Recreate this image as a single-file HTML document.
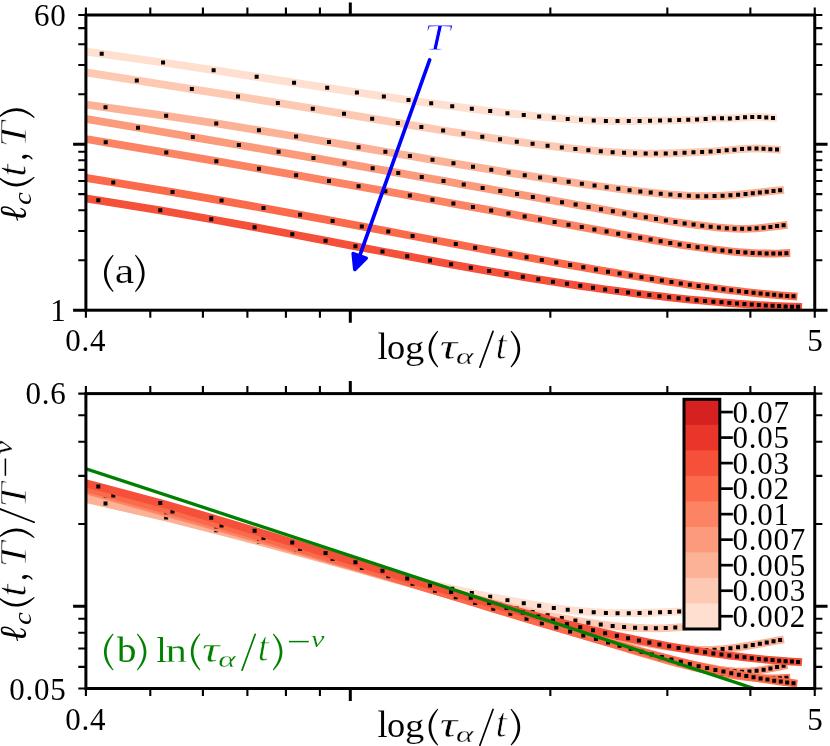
<!DOCTYPE html>
<html><head><meta charset="utf-8"><title>chart</title>
<style>
html,body{margin:0;padding:0;background:#fff;}
body{width:830px;height:746px;overflow:hidden;}
svg{display:block;will-change:transform;}
text{font-family:"Liberation Serif",serif;}
.tk{font-size:31px;letter-spacing:0.75px;}
</style></head><body>
<svg width="830" height="746" viewBox="0 0 830 746">
<rect width="830" height="746" fill="#fff"/>
<defs><clipPath id="c1"><rect x="85.9" y="15.0" width="728.85" height="295.2"/></clipPath><clipPath id="c2"><rect x="85.9" y="393.6" width="728.85" height="294.9"/></clipPath></defs>
<g clip-path="url(#c1)">
<path d="M23.67,42.66 L101.7,53.77 L163.06,62.5 L213.63,70.15 L256.65,76.83 L294.07,82.69 L327.2,87.84 L356.91,92.4 L383.85,96.45 L408.48,100.06 L431.18,103.29 L452.22,106.18 L471.83,108.78 L490.19,111.1 L507.46,113.15 L523.75,114.95 L539.16,116.52 L553.8,117.86 L567.73,118.98 L581.02,119.85 L593.72,120.49 L605.89,120.89 L617.56,121.07 L628.78,121.08 L639.58,120.97 L649.99,120.78 L660.04,120.55 L669.75,120.31 L679.15,120.07 L688.24,119.85 L697.06,119.61 L705.62,119.07 L713.93,118.33 L722.01,118.29 L729.87,118.43 L737.52,117.99 L744.98,117.32 L752.24,116.89 L759.33,116.92 L766.24,117.42 L773,117.91" fill="none" stroke="#fedfd0" stroke-width="7.8" stroke-linecap="square" stroke-linejoin="round"/>
<path d="M99.7,51.77h4.0v4.0h-4.0zM161.06,60.5h4.0v4.0h-4.0zM211.63,68.15h4.0v4.0h-4.0zM254.65,74.83h4.0v4.0h-4.0zM292.07,80.69h4.0v4.0h-4.0zM325.2,85.84h4.0v4.0h-4.0zM354.91,90.4h4.0v4.0h-4.0zM381.85,94.45h4.0v4.0h-4.0zM406.48,98.06h4.0v4.0h-4.0zM429.18,101.29h4.0v4.0h-4.0zM450.22,104.18h4.0v4.0h-4.0zM469.83,106.78h4.0v4.0h-4.0zM488.19,109.1h4.0v4.0h-4.0zM505.46,111.15h4.0v4.0h-4.0zM521.75,112.95h4.0v4.0h-4.0zM537.16,114.52h4.0v4.0h-4.0zM551.8,115.86h4.0v4.0h-4.0zM565.73,116.98h4.0v4.0h-4.0zM579.02,117.85h4.0v4.0h-4.0zM591.72,118.49h4.0v4.0h-4.0zM603.89,118.89h4.0v4.0h-4.0zM615.56,119.07h4.0v4.0h-4.0zM626.78,119.08h4.0v4.0h-4.0zM637.58,118.97h4.0v4.0h-4.0zM647.99,118.78h4.0v4.0h-4.0zM658.04,118.55h4.0v4.0h-4.0zM667.75,118.31h4.0v4.0h-4.0zM677.15,118.07h4.0v4.0h-4.0zM686.24,117.85h4.0v4.0h-4.0zM695.06,117.61h4.0v4.0h-4.0zM703.62,117.07h4.0v4.0h-4.0zM711.93,116.33h4.0v4.0h-4.0zM720.01,116.29h4.0v4.0h-4.0zM727.87,116.43h4.0v4.0h-4.0zM735.52,115.99h4.0v4.0h-4.0zM742.98,115.32h4.0v4.0h-4.0zM750.24,114.89h4.0v4.0h-4.0zM757.33,114.92h4.0v4.0h-4.0zM764.24,115.42h4.0v4.0h-4.0zM771,115.91h4.0v4.0h-4.0z" fill="#000"/>
<path d="M68.74,69.68 L136.8,80.4 L191.83,89.06 L238.03,96.44 L277.84,102.9 L312.82,108.66 L344.01,113.87 L372.16,118.63 L397.81,122.97 L421.36,126.91 L443.13,130.48 L463.38,133.72 L482.3,136.64 L500.05,139.28 L516.77,141.66 L532.58,143.8 L547.57,145.71 L561.81,147.42 L575.39,148.92 L588.36,150.21 L600.76,151.29 L612.66,152.16 L624.09,152.83 L635.08,153.29 L645.66,153.56 L655.88,153.62 L665.74,153.48 L675.28,153.16 L684.51,152.76 L693.45,152.35 L702.13,151.98 L710.56,151.54 L718.74,150.97 L726.7,150.31 L734.44,149.63 L741.99,149 L749.34,148.6 L756.51,148.52 L763.5,148.72 L770.33,149.13 L777,149.62" fill="none" stroke="#fdc9b3" stroke-width="7.8" stroke-linecap="square" stroke-linejoin="round"/>
<path d="M134.8,78.4h4.0v4.0h-4.0zM189.83,87.06h4.0v4.0h-4.0zM236.03,94.44h4.0v4.0h-4.0zM275.84,100.9h4.0v4.0h-4.0zM310.82,106.66h4.0v4.0h-4.0zM342.01,111.87h4.0v4.0h-4.0zM370.16,116.63h4.0v4.0h-4.0zM395.81,120.97h4.0v4.0h-4.0zM419.36,124.91h4.0v4.0h-4.0zM441.13,128.48h4.0v4.0h-4.0zM461.38,131.72h4.0v4.0h-4.0zM480.3,134.64h4.0v4.0h-4.0zM498.05,137.28h4.0v4.0h-4.0zM514.77,139.66h4.0v4.0h-4.0zM530.58,141.8h4.0v4.0h-4.0zM545.57,143.71h4.0v4.0h-4.0zM559.81,145.42h4.0v4.0h-4.0zM573.39,146.92h4.0v4.0h-4.0zM586.36,148.21h4.0v4.0h-4.0zM598.76,149.29h4.0v4.0h-4.0zM610.66,150.16h4.0v4.0h-4.0zM622.09,150.83h4.0v4.0h-4.0zM633.08,151.29h4.0v4.0h-4.0zM643.66,151.56h4.0v4.0h-4.0zM653.88,151.62h4.0v4.0h-4.0zM663.74,151.48h4.0v4.0h-4.0zM673.28,151.16h4.0v4.0h-4.0zM682.51,150.76h4.0v4.0h-4.0zM691.45,150.35h4.0v4.0h-4.0zM700.13,149.98h4.0v4.0h-4.0zM708.56,149.54h4.0v4.0h-4.0zM716.74,148.97h4.0v4.0h-4.0zM724.7,148.31h4.0v4.0h-4.0zM732.44,147.63h4.0v4.0h-4.0zM739.99,147h4.0v4.0h-4.0zM747.34,146.6h4.0v4.0h-4.0zM754.51,146.52h4.0v4.0h-4.0zM761.5,146.72h4.0v4.0h-4.0zM768.33,147.13h4.0v4.0h-4.0zM775,147.62h4.0v4.0h-4.0z" fill="#000"/>
<path d="M28.6,96.45 L105.5,107.27 L166.16,115.81 L216.26,123.47 L258.93,130.34 L296.1,136.51 L329.03,142.08 L358.57,147.13 L385.38,151.73 L409.9,155.94 L432.5,159.81 L453.46,163.37 L473,166.66 L491.3,169.71 L508.5,172.53 L524.74,175.14 L540.12,177.56 L554.71,179.8 L568.61,181.87 L581.86,183.8 L594.54,185.58 L606.67,187.24 L618.32,188.77 L629.52,190.18 L640.3,191.46 L650.69,192.61 L660.72,193.64 L670.41,194.53 L679.79,195.26 L688.87,195.8 L697.68,196.13 L706.22,196.22 L714.52,196.08 L722.59,195.74 L730.44,195.25 L738.08,194.65 L745.52,193.97 L752.78,193.23 L759.85,192.47 L766.76,191.7 L773.51,190.94 L780.1,190.21" fill="none" stroke="#fcb297" stroke-width="7.8" stroke-linecap="square" stroke-linejoin="round"/>
<path d="M103.5,105.27h4.0v4.0h-4.0zM164.16,113.81h4.0v4.0h-4.0zM214.26,121.47h4.0v4.0h-4.0zM256.93,128.34h4.0v4.0h-4.0zM294.1,134.51h4.0v4.0h-4.0zM327.03,140.08h4.0v4.0h-4.0zM356.57,145.13h4.0v4.0h-4.0zM383.38,149.73h4.0v4.0h-4.0zM407.9,153.94h4.0v4.0h-4.0zM430.5,157.81h4.0v4.0h-4.0zM451.46,161.37h4.0v4.0h-4.0zM471,164.66h4.0v4.0h-4.0zM489.3,167.71h4.0v4.0h-4.0zM506.5,170.53h4.0v4.0h-4.0zM522.74,173.14h4.0v4.0h-4.0zM538.12,175.56h4.0v4.0h-4.0zM552.71,177.8h4.0v4.0h-4.0zM566.61,179.87h4.0v4.0h-4.0zM579.86,181.8h4.0v4.0h-4.0zM592.54,183.58h4.0v4.0h-4.0zM604.67,185.24h4.0v4.0h-4.0zM616.32,186.77h4.0v4.0h-4.0zM627.52,188.18h4.0v4.0h-4.0zM638.3,189.46h4.0v4.0h-4.0zM648.69,190.61h4.0v4.0h-4.0zM658.72,191.64h4.0v4.0h-4.0zM668.41,192.53h4.0v4.0h-4.0zM677.79,193.26h4.0v4.0h-4.0zM686.87,193.8h4.0v4.0h-4.0zM695.68,194.13h4.0v4.0h-4.0zM704.22,194.22h4.0v4.0h-4.0zM712.52,194.08h4.0v4.0h-4.0zM720.59,193.74h4.0v4.0h-4.0zM728.44,193.25h4.0v4.0h-4.0zM736.08,192.65h4.0v4.0h-4.0zM743.52,191.97h4.0v4.0h-4.0zM750.78,191.23h4.0v4.0h-4.0zM757.85,190.47h4.0v4.0h-4.0zM764.76,189.7h4.0v4.0h-4.0zM771.51,188.94h4.0v4.0h-4.0zM778.1,188.21h4.0v4.0h-4.0z" fill="#000"/>
<path d="M70.27,116.25 L138,127.76 L192.81,137.08 L238.86,144.99 L278.56,151.87 L313.45,157.96 L344.57,163.42 L372.67,168.37 L398.26,172.9 L421.77,177.07 L443.51,180.94 L463.73,184.55 L482.62,187.92 L500.35,191.1 L517.06,194.09 L532.85,196.93 L547.82,199.62 L562.05,202.18 L575.61,204.62 L588.56,206.95 L600.96,209.19 L612.85,211.33 L624.26,213.39 L635.25,215.35 L645.83,217.2 L656.03,218.93 L665.89,220.54 L675.42,222.03 L684.64,223.39 L693.58,224.62 L702.26,225.73 L710.67,226.7 L718.85,227.55 L726.81,228.21 L734.55,228.65 L742.09,228.83 L749.43,228.71 L756.6,228.3 L763.59,227.68 L770.42,226.91 L777.08,226.08 L783.6,225.25" fill="none" stroke="#fc9b7c" stroke-width="7.8" stroke-linecap="square" stroke-linejoin="round"/>
<path d="M136,125.76h4.0v4.0h-4.0zM190.81,135.08h4.0v4.0h-4.0zM236.86,142.99h4.0v4.0h-4.0zM276.56,149.87h4.0v4.0h-4.0zM311.45,155.96h4.0v4.0h-4.0zM342.57,161.42h4.0v4.0h-4.0zM370.67,166.37h4.0v4.0h-4.0zM396.26,170.9h4.0v4.0h-4.0zM419.77,175.07h4.0v4.0h-4.0zM441.51,178.94h4.0v4.0h-4.0zM461.73,182.55h4.0v4.0h-4.0zM480.62,185.92h4.0v4.0h-4.0zM498.35,189.1h4.0v4.0h-4.0zM515.06,192.09h4.0v4.0h-4.0zM530.85,194.93h4.0v4.0h-4.0zM545.82,197.62h4.0v4.0h-4.0zM560.05,200.18h4.0v4.0h-4.0zM573.61,202.62h4.0v4.0h-4.0zM586.56,204.95h4.0v4.0h-4.0zM598.96,207.19h4.0v4.0h-4.0zM610.85,209.33h4.0v4.0h-4.0zM622.26,211.39h4.0v4.0h-4.0zM633.25,213.35h4.0v4.0h-4.0zM643.83,215.2h4.0v4.0h-4.0zM654.03,216.93h4.0v4.0h-4.0zM663.89,218.54h4.0v4.0h-4.0zM673.42,220.03h4.0v4.0h-4.0zM682.64,221.39h4.0v4.0h-4.0zM691.58,222.62h4.0v4.0h-4.0zM700.26,223.73h4.0v4.0h-4.0zM708.67,224.7h4.0v4.0h-4.0zM716.85,225.55h4.0v4.0h-4.0zM724.81,226.21h4.0v4.0h-4.0zM732.55,226.65h4.0v4.0h-4.0zM740.09,226.83h4.0v4.0h-4.0zM747.43,226.71h4.0v4.0h-4.0zM754.6,226.3h4.0v4.0h-4.0zM761.59,225.68h4.0v4.0h-4.0zM768.42,224.91h4.0v4.0h-4.0zM775.08,224.08h4.0v4.0h-4.0zM781.6,223.25h4.0v4.0h-4.0z" fill="#000"/>
<path d="M28.91,129.43 L105.7,142.37 L166.29,152.58 L216.34,161.19 L258.98,168.64 L296.12,175.19 L329.02,181.06 L358.55,186.35 L385.34,191.18 L409.85,195.62 L432.44,199.72 L453.39,203.54 L472.92,207.11 L491.22,210.45 L508.42,213.6 L524.65,216.58 L540.02,219.4 L554.61,222.08 L568.5,224.63 L581.75,227.06 L594.42,229.39 L606.56,231.62 L618.21,233.76 L629.4,235.81 L640.18,237.77 L650.57,239.62 L660.6,241.37 L670.29,243.01 L679.66,244.54 L688.74,245.95 L697.55,247.24 L706.09,248.43 L714.39,249.5 L722.45,250.46 L730.3,251.3 L737.94,252.01 L745.38,252.59 L752.63,253.04 L759.71,253.35 L766.62,253.51 L773.36,253.54 L779.96,253.43 L786.4,253.17" fill="none" stroke="#fc8363" stroke-width="7.8" stroke-linecap="square" stroke-linejoin="round"/>
<path d="M103.7,140.37h4.0v4.0h-4.0zM164.29,150.58h4.0v4.0h-4.0zM214.34,159.19h4.0v4.0h-4.0zM256.98,166.64h4.0v4.0h-4.0zM294.12,173.19h4.0v4.0h-4.0zM327.02,179.06h4.0v4.0h-4.0zM356.55,184.35h4.0v4.0h-4.0zM383.34,189.18h4.0v4.0h-4.0zM407.85,193.62h4.0v4.0h-4.0zM430.44,197.72h4.0v4.0h-4.0zM451.39,201.54h4.0v4.0h-4.0zM470.92,205.11h4.0v4.0h-4.0zM489.22,208.45h4.0v4.0h-4.0zM506.42,211.6h4.0v4.0h-4.0zM522.65,214.58h4.0v4.0h-4.0zM538.02,217.4h4.0v4.0h-4.0zM552.61,220.08h4.0v4.0h-4.0zM566.5,222.63h4.0v4.0h-4.0zM579.75,225.06h4.0v4.0h-4.0zM592.42,227.39h4.0v4.0h-4.0zM604.56,229.62h4.0v4.0h-4.0zM616.21,231.76h4.0v4.0h-4.0zM627.4,233.81h4.0v4.0h-4.0zM638.18,235.77h4.0v4.0h-4.0zM648.57,237.62h4.0v4.0h-4.0zM658.6,239.37h4.0v4.0h-4.0zM668.29,241.01h4.0v4.0h-4.0zM677.66,242.54h4.0v4.0h-4.0zM686.74,243.95h4.0v4.0h-4.0zM695.55,245.24h4.0v4.0h-4.0zM704.09,246.43h4.0v4.0h-4.0zM712.39,247.5h4.0v4.0h-4.0zM720.45,248.46h4.0v4.0h-4.0zM728.3,249.3h4.0v4.0h-4.0zM735.94,250.01h4.0v4.0h-4.0zM743.38,250.59h4.0v4.0h-4.0zM750.63,251.04h4.0v4.0h-4.0zM757.71,251.35h4.0v4.0h-4.0zM764.62,251.51h4.0v4.0h-4.0zM771.36,251.54h4.0v4.0h-4.0zM777.96,251.43h4.0v4.0h-4.0zM784.4,251.17h4.0v4.0h-4.0z" fill="#000"/>
<path d="M38.76,170.23 L113.3,182.42 L172.48,192.09 L221.57,200.59 L263.51,208.12 L300.12,214.85 L332.6,220.91 L361.79,226.39 L388.3,231.4 L412.58,235.99 L434.98,240.21 L455.76,244.11 L475.14,247.74 L493.3,251.11 L510.39,254.27 L526.52,257.22 L541.8,259.99 L556.31,262.59 L570.12,265.05 L583.31,267.37 L595.91,269.56 L607.99,271.64 L619.59,273.61 L630.73,275.48 L641.46,277.26 L651.81,278.94 L661.8,280.53 L671.45,282.03 L680.79,283.45 L689.84,284.78 L698.62,286.04 L707.13,287.22 L715.4,288.33 L723.44,289.36 L731.27,290.33 L738.88,291.23 L746.3,292.07 L753.54,292.85 L760.59,293.57 L767.48,294.23 L774.21,294.84 L780.78,295.4 L787.21,295.91 L793.5,296.37" fill="none" stroke="#fb6b4b" stroke-width="7.8" stroke-linecap="square" stroke-linejoin="round"/>
<path d="M111.3,180.42h4.0v4.0h-4.0zM170.48,190.09h4.0v4.0h-4.0zM219.57,198.59h4.0v4.0h-4.0zM261.51,206.12h4.0v4.0h-4.0zM298.12,212.85h4.0v4.0h-4.0zM330.6,218.91h4.0v4.0h-4.0zM359.79,224.39h4.0v4.0h-4.0zM386.3,229.4h4.0v4.0h-4.0zM410.58,233.99h4.0v4.0h-4.0zM432.98,238.21h4.0v4.0h-4.0zM453.76,242.11h4.0v4.0h-4.0zM473.14,245.74h4.0v4.0h-4.0zM491.3,249.11h4.0v4.0h-4.0zM508.39,252.27h4.0v4.0h-4.0zM524.52,255.22h4.0v4.0h-4.0zM539.8,257.99h4.0v4.0h-4.0zM554.31,260.59h4.0v4.0h-4.0zM568.12,263.05h4.0v4.0h-4.0zM581.31,265.37h4.0v4.0h-4.0zM593.91,267.56h4.0v4.0h-4.0zM605.99,269.64h4.0v4.0h-4.0zM617.59,271.61h4.0v4.0h-4.0zM628.73,273.48h4.0v4.0h-4.0zM639.46,275.26h4.0v4.0h-4.0zM649.81,276.94h4.0v4.0h-4.0zM659.8,278.53h4.0v4.0h-4.0zM669.45,280.03h4.0v4.0h-4.0zM678.79,281.45h4.0v4.0h-4.0zM687.84,282.78h4.0v4.0h-4.0zM696.62,284.04h4.0v4.0h-4.0zM705.13,285.22h4.0v4.0h-4.0zM713.4,286.33h4.0v4.0h-4.0zM721.44,287.36h4.0v4.0h-4.0zM729.27,288.33h4.0v4.0h-4.0zM736.88,289.23h4.0v4.0h-4.0zM744.3,290.07h4.0v4.0h-4.0zM751.54,290.85h4.0v4.0h-4.0zM758.59,291.57h4.0v4.0h-4.0zM765.48,292.23h4.0v4.0h-4.0zM772.21,292.84h4.0v4.0h-4.0zM778.78,293.4h4.0v4.0h-4.0zM785.21,293.91h4.0v4.0h-4.0zM791.5,294.37h4.0v4.0h-4.0z" fill="#000"/>
<path d="M19.26,187.7 L98.3,200.36 L160.28,210.29 L211.28,219.22 L254.6,227.18 L292.26,234.29 L325.56,240.65 L355.42,246.36 L382.48,251.52 L407.21,256.19 L429.99,260.44 L451.11,264.31 L470.78,267.85 L489.2,271.09 L506.51,274.07 L522.84,276.81 L538.3,279.34 L552.97,281.67 L566.93,283.83 L580.25,285.82 L592.98,287.67 L605.17,289.38 L616.87,290.97 L628.11,292.44 L638.93,293.8 L649.36,295.07 L659.42,296.24 L669.15,297.33 L678.56,298.34 L687.67,299.28 L696.5,300.14 L705.07,300.94 L713.39,301.68 L721.48,302.36 L729.35,302.99 L737.01,303.57 L744.47,304.09 L751.75,304.58 L758.84,305.02 L765.77,305.41 L772.53,305.77 L779.14,306.1 L785.6,306.39 L791.92,306.64 L798.1,306.86" fill="none" stroke="#f4503a" stroke-width="7.8" stroke-linecap="square" stroke-linejoin="round"/>
<path d="M96.3,198.36h4.0v4.0h-4.0zM158.28,208.29h4.0v4.0h-4.0zM209.28,217.22h4.0v4.0h-4.0zM252.6,225.18h4.0v4.0h-4.0zM290.26,232.29h4.0v4.0h-4.0zM323.56,238.65h4.0v4.0h-4.0zM353.42,244.36h4.0v4.0h-4.0zM380.48,249.52h4.0v4.0h-4.0zM405.21,254.19h4.0v4.0h-4.0zM427.99,258.44h4.0v4.0h-4.0zM449.11,262.31h4.0v4.0h-4.0zM468.78,265.85h4.0v4.0h-4.0zM487.2,269.09h4.0v4.0h-4.0zM504.51,272.07h4.0v4.0h-4.0zM520.84,274.81h4.0v4.0h-4.0zM536.3,277.34h4.0v4.0h-4.0zM550.97,279.67h4.0v4.0h-4.0zM564.93,281.83h4.0v4.0h-4.0zM578.25,283.82h4.0v4.0h-4.0zM590.98,285.67h4.0v4.0h-4.0zM603.17,287.38h4.0v4.0h-4.0zM614.87,288.97h4.0v4.0h-4.0zM626.11,290.44h4.0v4.0h-4.0zM636.93,291.8h4.0v4.0h-4.0zM647.36,293.07h4.0v4.0h-4.0zM657.42,294.24h4.0v4.0h-4.0zM667.15,295.33h4.0v4.0h-4.0zM676.56,296.34h4.0v4.0h-4.0zM685.67,297.28h4.0v4.0h-4.0zM694.5,298.14h4.0v4.0h-4.0zM703.07,298.94h4.0v4.0h-4.0zM711.39,299.68h4.0v4.0h-4.0zM719.48,300.36h4.0v4.0h-4.0zM727.35,300.99h4.0v4.0h-4.0zM735.01,301.57h4.0v4.0h-4.0zM742.47,302.09h4.0v4.0h-4.0zM749.75,302.58h4.0v4.0h-4.0zM756.84,303.02h4.0v4.0h-4.0zM763.77,303.41h4.0v4.0h-4.0zM770.53,303.77h4.0v4.0h-4.0zM777.14,304.1h4.0v4.0h-4.0zM783.6,304.39h4.0v4.0h-4.0zM789.92,304.64h4.0v4.0h-4.0zM796.1,304.86h4.0v4.0h-4.0z" fill="#000"/>
<path d="M429.6,60 L359.65,255.98" stroke="#0000ff" stroke-width="3.7" stroke-linecap="round" fill="none"/>
<path d="M354.87,269.35 L353.24,253.69 L366.05,258.26 Z" fill="#0000ff" stroke="#0000ff" stroke-width="3.7" stroke-linejoin="round"/>
</g>
<g clip-path="url(#c2)">
<path d="M23.67,484.14 L101.7,502.42 L163.06,516.8 L213.63,529.39 L256.65,540.39 L294.07,550.03 L327.2,558.51 L356.91,566.02 L383.85,572.68 L408.48,578.62 L431.18,583.94 L452.22,588.7 L471.83,592.98 L490.19,596.79 L507.46,600.17 L523.75,603.13 L539.16,605.72 L553.8,607.93 L567.73,609.76 L581.02,611.2 L593.72,612.25 L605.89,612.91 L617.56,613.2 L628.78,613.22 L639.58,613.04 L649.99,612.73 L660.04,612.35 L669.75,611.95 L679.15,611.56 L688.24,611.2 L697.06,610.8 L705.62,609.91 L713.93,608.69 L722.01,608.63 L729.87,608.86 L737.52,608.13 L744.98,607.03 L752.24,606.32 L759.33,606.37 L766.24,607.19 L773,608.01" fill="none" stroke="#fedfd0" stroke-width="7.8" stroke-linecap="square" stroke-linejoin="round"/>
<path d="M99.7,500.42h4.0v4.0h-4.0zM161.06,514.8h4.0v4.0h-4.0zM211.63,527.39h4.0v4.0h-4.0zM254.65,538.39h4.0v4.0h-4.0zM292.07,548.03h4.0v4.0h-4.0zM325.2,556.51h4.0v4.0h-4.0zM354.91,564.02h4.0v4.0h-4.0zM381.85,570.68h4.0v4.0h-4.0zM406.48,576.62h4.0v4.0h-4.0zM429.18,581.94h4.0v4.0h-4.0zM450.22,586.7h4.0v4.0h-4.0zM469.83,590.98h4.0v4.0h-4.0zM488.19,594.79h4.0v4.0h-4.0zM505.46,598.17h4.0v4.0h-4.0zM521.75,601.13h4.0v4.0h-4.0zM537.16,603.72h4.0v4.0h-4.0zM551.8,605.93h4.0v4.0h-4.0zM565.73,607.76h4.0v4.0h-4.0zM579.02,609.2h4.0v4.0h-4.0zM591.72,610.25h4.0v4.0h-4.0zM603.89,610.91h4.0v4.0h-4.0zM615.56,611.2h4.0v4.0h-4.0zM626.78,611.22h4.0v4.0h-4.0zM637.58,611.04h4.0v4.0h-4.0zM647.99,610.73h4.0v4.0h-4.0zM658.04,610.35h4.0v4.0h-4.0zM667.75,609.95h4.0v4.0h-4.0zM677.15,609.56h4.0v4.0h-4.0zM686.24,609.2h4.0v4.0h-4.0zM695.06,608.8h4.0v4.0h-4.0zM703.62,607.91h4.0v4.0h-4.0zM711.93,606.69h4.0v4.0h-4.0zM720.01,606.63h4.0v4.0h-4.0zM727.87,606.86h4.0v4.0h-4.0zM735.52,606.13h4.0v4.0h-4.0zM742.98,605.03h4.0v4.0h-4.0zM750.24,604.32h4.0v4.0h-4.0zM757.33,604.37h4.0v4.0h-4.0zM764.24,605.19h4.0v4.0h-4.0zM771,606.01h4.0v4.0h-4.0z" fill="#000"/>
<path d="M68.74,490.12 L136.8,507.76 L191.83,522.02 L238.03,534.17 L277.84,544.8 L312.82,554.28 L344.01,562.86 L372.16,570.7 L397.81,577.84 L421.36,584.33 L443.13,590.21 L463.38,595.53 L482.3,600.34 L500.05,604.69 L516.77,608.6 L532.58,612.12 L547.57,615.27 L561.81,618.09 L575.39,620.55 L588.36,622.67 L600.76,624.45 L612.66,625.88 L624.09,626.99 L635.08,627.75 L645.66,628.18 L655.88,628.28 L665.74,628.05 L675.28,627.53 L684.51,626.87 L693.45,626.2 L702.13,625.58 L710.56,624.86 L718.74,623.92 L726.7,622.83 L734.44,621.71 L741.99,620.69 L749.34,620.02 L756.51,619.89 L763.5,620.22 L770.33,620.89 L777,621.7" fill="none" stroke="#fdc9b3" stroke-width="7.8" stroke-linecap="square" stroke-linejoin="round"/>
<path d="M134.8,505.76h4.0v4.0h-4.0zM189.83,520.02h4.0v4.0h-4.0zM236.03,532.17h4.0v4.0h-4.0zM275.84,542.8h4.0v4.0h-4.0zM310.82,552.28h4.0v4.0h-4.0zM342.01,560.86h4.0v4.0h-4.0zM370.16,568.7h4.0v4.0h-4.0zM395.81,575.84h4.0v4.0h-4.0zM419.36,582.33h4.0v4.0h-4.0zM441.13,588.21h4.0v4.0h-4.0zM461.38,593.53h4.0v4.0h-4.0zM480.3,598.34h4.0v4.0h-4.0zM498.05,602.69h4.0v4.0h-4.0zM514.77,606.6h4.0v4.0h-4.0zM530.58,610.12h4.0v4.0h-4.0zM545.57,613.27h4.0v4.0h-4.0zM559.81,616.09h4.0v4.0h-4.0zM573.39,618.55h4.0v4.0h-4.0zM586.36,620.67h4.0v4.0h-4.0zM598.76,622.45h4.0v4.0h-4.0zM610.66,623.88h4.0v4.0h-4.0zM622.09,624.99h4.0v4.0h-4.0zM633.08,625.75h4.0v4.0h-4.0zM643.66,626.18h4.0v4.0h-4.0zM653.88,626.28h4.0v4.0h-4.0zM663.74,626.05h4.0v4.0h-4.0zM673.28,625.53h4.0v4.0h-4.0zM682.51,624.87h4.0v4.0h-4.0zM691.45,624.2h4.0v4.0h-4.0zM700.13,623.58h4.0v4.0h-4.0zM708.56,622.86h4.0v4.0h-4.0zM716.74,621.92h4.0v4.0h-4.0zM724.7,620.83h4.0v4.0h-4.0zM732.44,619.71h4.0v4.0h-4.0zM739.99,618.69h4.0v4.0h-4.0zM747.34,618.02h4.0v4.0h-4.0zM754.51,617.89h4.0v4.0h-4.0zM761.5,618.22h4.0v4.0h-4.0zM768.33,618.89h4.0v4.0h-4.0zM775,619.7h4.0v4.0h-4.0z" fill="#000"/>
<path d="M28.6,485.68 L105.5,503.49 L166.16,517.55 L216.26,530.17 L258.93,541.47 L296.1,551.63 L329.03,560.8 L358.57,569.11 L385.38,576.68 L409.9,583.61 L432.5,589.97 L453.46,595.84 L473,601.26 L491.3,606.27 L508.5,610.91 L524.74,615.21 L540.12,619.19 L554.71,622.88 L568.61,626.29 L581.86,629.46 L594.54,632.4 L606.67,635.13 L618.32,637.65 L629.52,639.96 L640.3,642.07 L650.69,643.97 L660.72,645.66 L670.41,647.13 L679.79,648.33 L688.87,649.22 L697.68,649.76 L706.22,649.91 L714.52,649.67 L722.59,649.12 L730.44,648.31 L738.08,647.32 L745.52,646.2 L752.78,644.99 L759.85,643.74 L766.76,642.47 L773.51,641.22 L780.1,640.02" fill="none" stroke="#fcb297" stroke-width="7.8" stroke-linecap="square" stroke-linejoin="round"/>
<path d="M103.5,501.49h4.0v4.0h-4.0zM164.16,515.55h4.0v4.0h-4.0zM214.26,528.17h4.0v4.0h-4.0zM256.93,539.47h4.0v4.0h-4.0zM294.1,549.63h4.0v4.0h-4.0zM327.03,558.8h4.0v4.0h-4.0zM356.57,567.11h4.0v4.0h-4.0zM383.38,574.68h4.0v4.0h-4.0zM407.9,581.61h4.0v4.0h-4.0zM430.5,587.97h4.0v4.0h-4.0zM451.46,593.84h4.0v4.0h-4.0zM471,599.26h4.0v4.0h-4.0zM489.3,604.27h4.0v4.0h-4.0zM506.5,608.91h4.0v4.0h-4.0zM522.74,613.21h4.0v4.0h-4.0zM538.12,617.19h4.0v4.0h-4.0zM552.71,620.88h4.0v4.0h-4.0zM566.61,624.29h4.0v4.0h-4.0zM579.86,627.46h4.0v4.0h-4.0zM592.54,630.4h4.0v4.0h-4.0zM604.67,633.13h4.0v4.0h-4.0zM616.32,635.65h4.0v4.0h-4.0zM627.52,637.96h4.0v4.0h-4.0zM638.3,640.07h4.0v4.0h-4.0zM648.69,641.97h4.0v4.0h-4.0zM658.72,643.66h4.0v4.0h-4.0zM668.41,645.13h4.0v4.0h-4.0zM677.79,646.33h4.0v4.0h-4.0zM686.87,647.22h4.0v4.0h-4.0zM695.68,647.76h4.0v4.0h-4.0zM704.22,647.91h4.0v4.0h-4.0zM712.52,647.67h4.0v4.0h-4.0zM720.59,647.12h4.0v4.0h-4.0zM728.44,646.31h4.0v4.0h-4.0zM736.08,645.32h4.0v4.0h-4.0zM743.52,644.2h4.0v4.0h-4.0zM750.78,642.99h4.0v4.0h-4.0zM757.85,641.74h4.0v4.0h-4.0zM764.76,640.47h4.0v4.0h-4.0zM771.51,639.22h4.0v4.0h-4.0zM778.1,638.02h4.0v4.0h-4.0z" fill="#000"/>
<path d="M70.27,486.33 L138,505.28 L192.81,520.61 L238.86,533.64 L278.56,544.97 L313.45,554.99 L344.57,563.98 L372.67,572.13 L398.26,579.58 L421.77,586.45 L443.51,592.81 L463.73,598.75 L482.62,604.31 L500.35,609.53 L517.06,614.46 L532.85,619.13 L547.82,623.55 L562.05,627.77 L575.61,631.79 L588.56,635.63 L600.96,639.31 L612.85,642.84 L624.26,646.23 L635.25,649.45 L645.83,652.49 L656.03,655.35 L665.89,658 L675.42,660.44 L684.64,662.68 L693.58,664.71 L702.26,666.53 L710.67,668.14 L718.85,669.53 L726.81,670.62 L734.55,671.34 L742.09,671.64 L749.43,671.45 L756.6,670.77 L763.59,669.74 L770.42,668.48 L777.08,667.11 L783.6,665.75" fill="none" stroke="#fc9b7c" stroke-width="7.8" stroke-linecap="square" stroke-linejoin="round"/>
<path d="M136,503.28h4.0v4.0h-4.0zM190.81,518.61h4.0v4.0h-4.0zM236.86,531.64h4.0v4.0h-4.0zM276.56,542.97h4.0v4.0h-4.0zM311.45,552.99h4.0v4.0h-4.0zM342.57,561.98h4.0v4.0h-4.0zM370.67,570.13h4.0v4.0h-4.0zM396.26,577.58h4.0v4.0h-4.0zM419.77,584.45h4.0v4.0h-4.0zM441.51,590.81h4.0v4.0h-4.0zM461.73,596.75h4.0v4.0h-4.0zM480.62,602.31h4.0v4.0h-4.0zM498.35,607.53h4.0v4.0h-4.0zM515.06,612.46h4.0v4.0h-4.0zM530.85,617.13h4.0v4.0h-4.0zM545.82,621.55h4.0v4.0h-4.0zM560.05,625.77h4.0v4.0h-4.0zM573.61,629.79h4.0v4.0h-4.0zM586.56,633.63h4.0v4.0h-4.0zM598.96,637.31h4.0v4.0h-4.0zM610.85,640.84h4.0v4.0h-4.0zM622.26,644.23h4.0v4.0h-4.0zM633.25,647.45h4.0v4.0h-4.0zM643.83,650.49h4.0v4.0h-4.0zM654.03,653.35h4.0v4.0h-4.0zM663.89,656h4.0v4.0h-4.0zM673.42,658.44h4.0v4.0h-4.0zM682.64,660.68h4.0v4.0h-4.0zM691.58,662.71h4.0v4.0h-4.0zM700.26,664.53h4.0v4.0h-4.0zM708.67,666.14h4.0v4.0h-4.0zM716.85,667.53h4.0v4.0h-4.0zM724.81,668.62h4.0v4.0h-4.0zM732.55,669.34h4.0v4.0h-4.0zM740.09,669.64h4.0v4.0h-4.0zM747.43,669.45h4.0v4.0h-4.0zM754.6,668.77h4.0v4.0h-4.0zM761.59,667.74h4.0v4.0h-4.0zM768.42,666.48h4.0v4.0h-4.0zM775.08,665.11h4.0v4.0h-4.0zM781.6,663.75h4.0v4.0h-4.0z" fill="#000"/>
<path d="M28.91,474.16 L105.7,495.46 L166.29,512.27 L216.34,526.44 L258.98,538.7 L296.12,549.49 L329.02,559.14 L358.55,567.86 L385.34,575.81 L409.85,583.11 L432.44,589.87 L453.39,596.15 L472.92,602.02 L491.22,607.53 L508.42,612.72 L524.65,617.62 L540.02,622.26 L554.61,626.67 L568.5,630.87 L581.75,634.87 L594.42,638.7 L606.56,642.37 L618.21,645.89 L629.4,649.27 L640.18,652.49 L650.57,655.55 L660.6,658.42 L670.29,661.12 L679.66,663.63 L688.74,665.95 L697.55,668.09 L706.09,670.04 L714.39,671.8 L722.45,673.38 L730.3,674.76 L737.94,675.93 L745.38,676.89 L752.63,677.62 L759.71,678.13 L766.62,678.41 L773.36,678.45 L779.96,678.26 L786.4,677.84" fill="none" stroke="#fc8363" stroke-width="7.8" stroke-linecap="square" stroke-linejoin="round"/>
<path d="M103.7,493.46h4.0v4.0h-4.0zM164.29,510.27h4.0v4.0h-4.0zM214.34,524.44h4.0v4.0h-4.0zM256.98,536.7h4.0v4.0h-4.0zM294.12,547.49h4.0v4.0h-4.0zM327.02,557.14h4.0v4.0h-4.0zM356.55,565.86h4.0v4.0h-4.0zM383.34,573.81h4.0v4.0h-4.0zM407.85,581.11h4.0v4.0h-4.0zM430.44,587.87h4.0v4.0h-4.0zM451.39,594.15h4.0v4.0h-4.0zM470.92,600.02h4.0v4.0h-4.0zM489.22,605.53h4.0v4.0h-4.0zM506.42,610.72h4.0v4.0h-4.0zM522.65,615.62h4.0v4.0h-4.0zM538.02,620.26h4.0v4.0h-4.0zM552.61,624.67h4.0v4.0h-4.0zM566.5,628.87h4.0v4.0h-4.0zM579.75,632.87h4.0v4.0h-4.0zM592.42,636.7h4.0v4.0h-4.0zM604.56,640.37h4.0v4.0h-4.0zM616.21,643.89h4.0v4.0h-4.0zM627.4,647.27h4.0v4.0h-4.0zM638.18,650.49h4.0v4.0h-4.0zM648.57,653.55h4.0v4.0h-4.0zM658.6,656.42h4.0v4.0h-4.0zM668.29,659.12h4.0v4.0h-4.0zM677.66,661.63h4.0v4.0h-4.0zM686.74,663.95h4.0v4.0h-4.0zM695.55,666.09h4.0v4.0h-4.0zM704.09,668.04h4.0v4.0h-4.0zM712.39,669.8h4.0v4.0h-4.0zM720.45,671.38h4.0v4.0h-4.0zM728.3,672.76h4.0v4.0h-4.0zM735.94,673.93h4.0v4.0h-4.0zM743.38,674.89h4.0v4.0h-4.0zM750.63,675.62h4.0v4.0h-4.0zM757.71,676.13h4.0v4.0h-4.0zM764.62,676.41h4.0v4.0h-4.0zM771.36,676.45h4.0v4.0h-4.0zM777.96,676.26h4.0v4.0h-4.0zM784.4,675.84h4.0v4.0h-4.0z" fill="#000"/>
<path d="M38.76,475.52 L113.3,495.57 L172.48,511.5 L221.57,525.49 L263.51,537.89 L300.12,548.96 L332.6,558.93 L361.79,567.96 L388.3,576.2 L412.58,583.75 L434.98,590.7 L455.76,597.13 L475.14,603.09 L493.3,608.65 L510.39,613.84 L526.52,618.69 L541.8,623.25 L556.31,627.54 L570.12,631.58 L583.31,635.4 L595.91,639.01 L607.99,642.43 L619.59,645.68 L630.73,648.76 L641.46,651.68 L651.81,654.45 L661.8,657.06 L671.45,659.54 L680.79,661.87 L689.84,664.07 L698.62,666.14 L707.13,668.08 L715.4,669.9 L723.44,671.6 L731.27,673.2 L738.88,674.68 L746.3,676.06 L753.54,677.34 L760.59,678.53 L767.48,679.62 L774.21,680.63 L780.78,681.55 L787.21,682.38 L793.5,683.14" fill="none" stroke="#fb6b4b" stroke-width="7.8" stroke-linecap="square" stroke-linejoin="round"/>
<path d="M111.3,493.57h4.0v4.0h-4.0zM170.48,509.5h4.0v4.0h-4.0zM219.57,523.49h4.0v4.0h-4.0zM261.51,535.89h4.0v4.0h-4.0zM298.12,546.96h4.0v4.0h-4.0zM330.6,556.93h4.0v4.0h-4.0zM359.79,565.96h4.0v4.0h-4.0zM386.3,574.2h4.0v4.0h-4.0zM410.58,581.75h4.0v4.0h-4.0zM432.98,588.7h4.0v4.0h-4.0zM453.76,595.13h4.0v4.0h-4.0zM473.14,601.09h4.0v4.0h-4.0zM491.3,606.65h4.0v4.0h-4.0zM508.39,611.84h4.0v4.0h-4.0zM524.52,616.69h4.0v4.0h-4.0zM539.8,621.25h4.0v4.0h-4.0zM554.31,625.54h4.0v4.0h-4.0zM568.12,629.58h4.0v4.0h-4.0zM581.31,633.4h4.0v4.0h-4.0zM593.91,637.01h4.0v4.0h-4.0zM605.99,640.43h4.0v4.0h-4.0zM617.59,643.68h4.0v4.0h-4.0zM628.73,646.76h4.0v4.0h-4.0zM639.46,649.68h4.0v4.0h-4.0zM649.81,652.45h4.0v4.0h-4.0zM659.8,655.06h4.0v4.0h-4.0zM669.45,657.54h4.0v4.0h-4.0zM678.79,659.87h4.0v4.0h-4.0zM687.84,662.07h4.0v4.0h-4.0zM696.62,664.14h4.0v4.0h-4.0zM705.13,666.08h4.0v4.0h-4.0zM713.4,667.9h4.0v4.0h-4.0zM721.44,669.6h4.0v4.0h-4.0zM729.27,671.2h4.0v4.0h-4.0zM736.88,672.68h4.0v4.0h-4.0zM744.3,674.06h4.0v4.0h-4.0zM751.54,675.34h4.0v4.0h-4.0zM758.59,676.53h4.0v4.0h-4.0zM765.48,677.62h4.0v4.0h-4.0zM772.21,678.63h4.0v4.0h-4.0zM778.78,679.55h4.0v4.0h-4.0zM785.21,680.38h4.0v4.0h-4.0zM791.5,681.14h4.0v4.0h-4.0z" fill="#000"/>
<path d="M19.26,465.77 L98.3,486.62 L160.28,502.96 L211.28,517.65 L254.6,530.76 L292.26,542.45 L325.56,552.92 L355.42,562.33 L382.48,570.82 L407.21,578.51 L429.99,585.5 L451.11,591.88 L470.78,597.7 L489.2,603.04 L506.51,607.94 L522.84,612.46 L538.3,616.61 L552.97,620.45 L566.93,624 L580.25,627.28 L592.98,630.32 L605.17,633.14 L616.87,635.75 L628.11,638.17 L638.93,640.42 L649.36,642.51 L659.42,644.44 L669.15,646.23 L678.56,647.89 L687.67,649.43 L696.5,650.86 L705.07,652.17 L713.39,653.39 L721.48,654.51 L729.35,655.54 L737.01,656.49 L744.47,657.36 L751.75,658.15 L758.84,658.88 L765.77,659.53 L772.53,660.12 L779.14,660.66 L785.6,661.13 L791.92,661.55 L798.1,661.92" fill="none" stroke="#f4503a" stroke-width="7.8" stroke-linecap="square" stroke-linejoin="round"/>
<path d="M96.3,484.62h4.0v4.0h-4.0zM158.28,500.96h4.0v4.0h-4.0zM209.28,515.65h4.0v4.0h-4.0zM252.6,528.76h4.0v4.0h-4.0zM290.26,540.45h4.0v4.0h-4.0zM323.56,550.92h4.0v4.0h-4.0zM353.42,560.33h4.0v4.0h-4.0zM380.48,568.82h4.0v4.0h-4.0zM405.21,576.51h4.0v4.0h-4.0zM427.99,583.5h4.0v4.0h-4.0zM449.11,589.88h4.0v4.0h-4.0zM468.78,595.7h4.0v4.0h-4.0zM487.2,601.04h4.0v4.0h-4.0zM504.51,605.94h4.0v4.0h-4.0zM520.84,610.46h4.0v4.0h-4.0zM536.3,614.61h4.0v4.0h-4.0zM550.97,618.45h4.0v4.0h-4.0zM564.93,622h4.0v4.0h-4.0zM578.25,625.28h4.0v4.0h-4.0zM590.98,628.32h4.0v4.0h-4.0zM603.17,631.14h4.0v4.0h-4.0zM614.87,633.75h4.0v4.0h-4.0zM626.11,636.17h4.0v4.0h-4.0zM636.93,638.42h4.0v4.0h-4.0zM647.36,640.51h4.0v4.0h-4.0zM657.42,642.44h4.0v4.0h-4.0zM667.15,644.23h4.0v4.0h-4.0zM676.56,645.89h4.0v4.0h-4.0zM685.67,647.43h4.0v4.0h-4.0zM694.5,648.86h4.0v4.0h-4.0zM703.07,650.17h4.0v4.0h-4.0zM711.39,651.39h4.0v4.0h-4.0zM719.48,652.51h4.0v4.0h-4.0zM727.35,653.54h4.0v4.0h-4.0zM735.01,654.49h4.0v4.0h-4.0zM742.47,655.36h4.0v4.0h-4.0zM749.75,656.15h4.0v4.0h-4.0zM756.84,656.88h4.0v4.0h-4.0zM763.77,657.53h4.0v4.0h-4.0zM770.53,658.12h4.0v4.0h-4.0zM777.14,658.66h4.0v4.0h-4.0zM783.6,659.13h4.0v4.0h-4.0zM789.92,659.55h4.0v4.0h-4.0zM796.1,659.92h4.0v4.0h-4.0z" fill="#000"/>
<path d="M80.9,467.05 L814.75,708.5" stroke="#008000" stroke-width="3.3" fill="none"/>
</g>
<rect x="682.5" y="397.8" width="130.75" height="232.7" fill="#fff"/>
<rect x="684.0" y="399.3" width="35.8" height="229.7" fill="#d52221"/>
<rect x="684.0" y="424.82" width="35.8" height="204.18" fill="#ea362a"/>
<rect x="684.0" y="450.34" width="35.8" height="178.66" fill="#f4503a"/>
<rect x="684.0" y="475.87" width="35.8" height="153.13" fill="#fb6b4b"/>
<rect x="684.0" y="501.39" width="35.8" height="127.61" fill="#fc8363"/>
<rect x="684.0" y="526.91" width="35.8" height="102.09" fill="#fc9b7c"/>
<rect x="684.0" y="552.43" width="35.8" height="76.57" fill="#fcb297"/>
<rect x="684.0" y="577.96" width="35.8" height="51.04" fill="#fdc9b3"/>
<rect x="684.0" y="603.48" width="35.8" height="25.52" fill="#fedfd0"/>
<rect x="684.0" y="399.3" width="35.8" height="229.7" fill="none" stroke="#000" stroke-width="3"/>
<path d="M719.8,412.06H732.8" stroke="#000" stroke-width="2.7"/>
<text x="732.5" y="422.76" class="tk">0.07</text>
<path d="M719.8,437.58H732.8" stroke="#000" stroke-width="2.7"/>
<text x="732.5" y="448.28" class="tk">0.05</text>
<path d="M719.8,463.11H732.8" stroke="#000" stroke-width="2.7"/>
<text x="732.5" y="473.81" class="tk">0.03</text>
<path d="M719.8,488.63H732.8" stroke="#000" stroke-width="2.7"/>
<text x="732.5" y="499.33" class="tk">0.02</text>
<path d="M719.8,514.15H732.8" stroke="#000" stroke-width="2.7"/>
<text x="732.5" y="524.85" class="tk">0.01</text>
<path d="M719.8,539.67H732.8" stroke="#000" stroke-width="2.7"/>
<text x="732.5" y="550.37" class="tk">0.007</text>
<path d="M719.8,565.19H732.8" stroke="#000" stroke-width="2.7"/>
<text x="732.5" y="575.89" class="tk">0.005</text>
<path d="M719.8,590.72H732.8" stroke="#000" stroke-width="2.7"/>
<text x="732.5" y="601.42" class="tk">0.003</text>
<path d="M719.8,616.24H732.8" stroke="#000" stroke-width="2.7"/>
<text x="732.5" y="626.94" class="tk">0.002</text>
<rect x="85.9" y="15.0" width="728.85" height="295.2" fill="none" stroke="#000" stroke-width="3"/>
<path d="M85.9,15.0v-7.6M85.9,310.2v7.6M150.29,15.0v-7.6M150.29,310.2v7.6M202.91,15.0v-7.6M202.91,310.2v7.6M247.39,15.0v-7.6M247.39,310.2v7.6M285.92,15.0v-7.6M285.92,310.2v7.6M319.91,15.0v-7.6M319.91,310.2v7.6M550.34,15.0v-7.6M550.34,310.2v7.6M667.34,15.0v-7.6M667.34,310.2v7.6M750.36,15.0v-7.6M750.36,310.2v7.6M814.75,15.0v-7.6M814.75,310.2v7.6M85.9,260.22h-7.6M814.75,260.22h7.6M85.9,230.99h-7.6M814.75,230.99h7.6M85.9,210.25h-7.6M814.75,210.25h7.6M85.9,194.16h-7.6M814.75,194.16h7.6M85.9,181.02h-7.6M814.75,181.02h7.6M85.9,169.9h-7.6M814.75,169.9h7.6M85.9,160.27h-7.6M814.75,160.27h7.6M85.9,151.78h-7.6M814.75,151.78h7.6M85.9,94.21h-7.6M814.75,94.21h7.6M85.9,64.98h-7.6M814.75,64.98h7.6M85.9,44.23h-7.6M814.75,44.23h7.6M85.9,28.15h-7.6M814.75,28.15h7.6M85.9,15h-7.6M814.75,15h7.6" stroke="#000" stroke-width="2.1" fill="none"/>
<path d="M350.31,15.0v-12.6M350.31,310.2v12.6M85.9,310.2h-12.8M814.75,310.2h12.8M85.9,144.18h-12.8M814.75,144.18h12.8" stroke="#000" stroke-width="3" fill="none"/>
<rect x="85.9" y="393.6" width="728.85" height="294.9" fill="none" stroke="#000" stroke-width="3"/>
<path d="M85.9,393.6v-7.6M85.9,688.5v7.6M150.29,393.6v-7.6M150.29,688.5v7.6M202.91,393.6v-7.6M202.91,688.5v7.6M247.39,393.6v-7.6M247.39,688.5v7.6M285.92,393.6v-7.6M285.92,688.5v7.6M319.91,393.6v-7.6M319.91,688.5v7.6M550.34,393.6v-7.6M550.34,688.5v7.6M667.34,393.6v-7.6M667.34,688.5v7.6M750.36,393.6v-7.6M750.36,688.5v7.6M814.75,393.6v-7.6M814.75,688.5v7.6M85.9,688.5h-7.6M814.75,688.5h7.6M85.9,666.86h-7.6M814.75,666.86h7.6M85.9,648.57h-7.6M814.75,648.57h7.6M85.9,632.72h-7.6M814.75,632.72h7.6M85.9,618.74h-7.6M814.75,618.74h7.6M85.9,523.98h-7.6M814.75,523.98h7.6M85.9,475.86h-7.6M814.75,475.86h7.6M85.9,441.72h-7.6M814.75,441.72h7.6M85.9,415.24h-7.6M814.75,415.24h7.6M85.9,393.6h-7.6M814.75,393.6h7.6" stroke="#000" stroke-width="2.1" fill="none"/>
<path d="M350.31,393.6v-12.6M350.31,688.5v12.6M85.9,606.24h-12.8M814.75,606.24h12.8" stroke="#000" stroke-width="3" fill="none"/>
<text x="66.5" y="25.9" class="tk" text-anchor="end">60</text>
<text x="66.5" y="321" class="tk" text-anchor="end">1</text>
<text x="66.5" y="404.4" class="tk" text-anchor="end">0.6</text>
<text x="66.5" y="699.6" class="tk" text-anchor="end">0.05</text>
<text x="85.8" y="351.3" class="tk" text-anchor="middle">0.4</text>
<text x="815.25" y="351.3" class="tk" text-anchor="middle">5</text>
<text x="85.8" y="729.9" class="tk" text-anchor="middle">0.4</text>
<text x="815.25" y="729.9" class="tk" text-anchor="middle">5</text>
<g fill="#000" color="#000"><text transform="matrix(0.3659 0 0 0.3719 377.47 358.60)" font-size="100">l</text><text transform="matrix(0.3634 0 0 0.3597 386.92 358.75)" font-size="100">o</text><text transform="matrix(0.3858 0 0 0.3429 404.94 358.90)" font-size="100" stroke="#fff" stroke-width="0.43">g</text><path d="M437.5,330.7 C431.45,336.59 428.6,342.48 428.6,349.1 C428.6,355.72 431.45,361.61 437.5,367.5 L438.2,366.8 C434.09,361.24 431.3,355.72 431.3,349.1 C431.3,342.48 434.09,336.96 438.2,331.4 Z"/><text transform="matrix(0.4861 0 0 0.3584 439.73 358.65)" font-size="100" font-style="italic" stroke="#fff" stroke-width="1.00">τ</text><text transform="matrix(0.3322 0 0 0.2303 456.11 364.26)" font-size="100" font-style="italic" stroke="#fff" stroke-width="1.17">α</text><path d="M479.9,367.2L493,331.4" stroke="currentColor" stroke-width="1.7" stroke-linecap="round" fill="none"/><text transform="matrix(0.4094 0 0 0.4190 495.40 358.59)" font-size="100" font-style="italic" stroke="#fff" stroke-width="1.81">t</text><g transform="translate(1040.4,0) scale(-1,1)"><path d="M529.1,330.7 C523.05,336.59 520.2,342.48 520.2,349.1 C520.2,355.72 523.05,361.61 529.1,367.5 L529.8,366.8 C525.69,361.24 522.9,355.72 522.9,349.1 C522.9,342.48 525.69,336.96 529.8,331.4 Z"/></g></g>
<g fill="#000" color="#000"><text transform="matrix(0.3659 0 0 0.3719 377.47 736.70)" font-size="100">l</text><text transform="matrix(0.3634 0 0 0.3597 386.92 736.85)" font-size="100">o</text><text transform="matrix(0.3858 0 0 0.3429 404.94 737.00)" font-size="100" stroke="#fff" stroke-width="0.43">g</text><path d="M437.5,708.8 C431.45,714.69 428.6,720.58 428.6,727.2 C428.6,733.82 431.45,739.71 437.5,745.6 L438.2,744.9 C434.09,739.34 431.3,733.82 431.3,727.2 C431.3,720.58 434.09,715.06 438.2,709.5 Z"/><text transform="matrix(0.4861 0 0 0.3584 439.73 736.75)" font-size="100" font-style="italic" stroke="#fff" stroke-width="1.00">τ</text><text transform="matrix(0.3322 0 0 0.2303 456.11 742.36)" font-size="100" font-style="italic" stroke="#fff" stroke-width="1.17">α</text><path d="M479.9,745.3L493,709.5" stroke="currentColor" stroke-width="1.7" stroke-linecap="round" fill="none"/><text transform="matrix(0.4094 0 0 0.4190 495.40 736.69)" font-size="100" font-style="italic" stroke="#fff" stroke-width="1.81">t</text><g transform="translate(1040.4,0) scale(-1,1)"><path d="M529.1,708.8 C523.05,714.69 520.2,720.58 520.2,727.2 C520.2,733.82 523.05,739.71 529.1,745.6 L529.8,744.9 C525.69,739.34 522.9,733.82 522.9,727.2 C522.9,720.58 525.69,715.06 529.8,709.5 Z"/></g></g>
<g fill="#000"><path d="M112.9,254.8 C106.85,260.75 104,266.7 104,273.4 C104,280.1 106.85,286.05 112.9,292 L113.6,291.3 C109.49,285.68 106.7,280.1 106.7,273.4 C106.7,266.7 109.49,261.12 113.6,255.5 Z"/><text transform="matrix(0.4405 0 0 0.3653 114.75 283.14)" font-size="100" stroke="#fff" stroke-width="0.65">a</text><g transform="translate(289.2,0) scale(-1,1)"><path d="M153.5,254.8 C147.45,260.75 144.6,266.7 144.6,273.4 C144.6,280.1 147.45,286.05 153.5,292 L154.2,291.3 C150.09,285.68 147.3,280.1 147.3,273.4 C147.3,266.7 150.09,261.12 154.2,255.5 Z"/></g></g>
<g fill="#0000ff"><text transform="matrix(0.4711 0 0 0.3864 423.72 50.00)" font-size="100" font-style="italic" stroke="#fff" stroke-width="2.11">T</text></g>
<g fill="#008000" color="#008000"><path d="M112.9,633.6 C106.85,639.52 104,645.44 104,652.1 C104,658.76 106.85,664.68 112.9,670.6 L113.6,669.9 C109.49,664.31 106.7,658.76 106.7,652.1 C106.7,645.44 109.49,639.89 113.6,634.3 Z"/><text transform="matrix(0.3875 0 0 0.3653 116.90 661.54)" font-size="100">b</text><g transform="translate(292.8,0) scale(-1,1)"><path d="M155.3,633.6 C149.25,639.52 146.4,645.44 146.4,652.1 C146.4,658.76 149.25,664.68 155.3,670.6 L156,669.9 C151.89,664.31 149.1,658.76 149.1,652.1 C149.1,645.44 151.89,639.89 156,634.3 Z"/></g><text transform="matrix(0.3616 0 0 0.3647 156.58 661.50)" font-size="100">l</text><text transform="matrix(0.4307 0 0 0.3332 165.61 661.50)" font-size="100" stroke="#fff" stroke-width="0.87">n</text><path d="M199.7,633.6 C193.65,639.49 190.8,645.38 190.8,652 C190.8,658.62 193.65,664.51 199.7,670.4 L200.4,669.7 C196.29,664.14 193.5,658.62 193.5,652 C193.5,645.38 196.29,639.86 200.4,634.3 Z"/><text transform="matrix(0.4861 0 0 0.3584 201.93 661.55)" font-size="100" font-style="italic" stroke="#fff" stroke-width="1.00">τ</text><text transform="matrix(0.3322 0 0 0.2303 218.31 667.16)" font-size="100" font-style="italic" stroke="#fff" stroke-width="1.17">α</text><path d="M242.1,670.1L255.2,634.3" stroke="currentColor" stroke-width="1.7" stroke-linecap="round" fill="none"/><text transform="matrix(0.4094 0 0 0.4190 257.60 661.49)" font-size="100" font-style="italic" stroke="#fff" stroke-width="1.81">t</text><g transform="translate(564.8,0) scale(-1,1)"><path d="M291.3,633.6 C285.25,639.49 282.4,645.38 282.4,652 C282.4,658.62 285.25,664.51 291.3,670.4 L292,669.7 C287.89,664.14 285.1,658.62 285.1,652 C285.1,645.38 287.89,639.86 292,634.3 Z"/></g><path d="M288.9,641.6H308.8" stroke="#008000" stroke-width="1.5"/><text transform="matrix(0.3023 0 0 0.2325 311.09 646.87)" font-size="100" font-style="italic" stroke="#fff" stroke-width="0.88">ν</text></g>
<g fill="#000" color="#000" transform="translate(25.8,300) rotate(-90)"><text transform="matrix(0.3733 0 0 0.3791 78.53 -0.07)" font-size="100" font-style="italic">ℓ</text><text transform="matrix(0.2809 0 0 0.2599 95.33 5.65)" font-size="100" font-style="italic">c</text><path d="M122.5,-27.9 C116.45,-22.01 113.6,-16.12 113.6,-9.5 C113.6,-2.88 116.45,3.01 122.5,8.9 L123.2,8.2 C119.09,2.64 116.3,-2.88 116.3,-9.5 C116.3,-16.12 119.09,-21.64 123.2,-27.2 Z"/><text transform="matrix(0.4567 0 0 0.4225 123.10 0.09)" font-size="100" font-style="italic" stroke="#fff" stroke-width="1.71">t</text><text transform="matrix(0.3022 0 0 0.4283 139.55 0.21)" font-size="100">,</text><text transform="matrix(0.4620 0 0 0.3833 152.38 0.00)" font-size="100" font-style="italic" stroke="#fff" stroke-width="2.14">T</text><g transform="translate(383.4,0) scale(-1,1)"><path d="M200.6,-27.9 C194.55,-22.01 191.7,-16.12 191.7,-9.5 C191.7,-2.88 194.55,3.01 200.6,8.9 L201.3,8.2 C197.19,2.64 194.4,-2.88 194.4,-9.5 C194.4,-16.12 197.19,-21.64 201.3,-27.2 Z"/></g></g>
<g fill="#000" color="#000" transform="translate(25.8,720.2) rotate(-90)"><text transform="matrix(0.3733 0 0 0.3791 78.53 -0.07)" font-size="100" font-style="italic">ℓ</text><text transform="matrix(0.2809 0 0 0.2599 95.33 5.65)" font-size="100" font-style="italic">c</text><path d="M122.5,-27.9 C116.45,-22.01 113.6,-16.12 113.6,-9.5 C113.6,-2.88 116.45,3.01 122.5,8.9 L123.2,8.2 C119.09,2.64 116.3,-2.88 116.3,-9.5 C116.3,-16.12 119.09,-21.64 123.2,-27.2 Z"/><text transform="matrix(0.4567 0 0 0.4225 123.10 0.09)" font-size="100" font-style="italic" stroke="#fff" stroke-width="1.71">t</text><text transform="matrix(0.3022 0 0 0.4283 139.55 0.21)" font-size="100">,</text><text transform="matrix(0.4620 0 0 0.3833 152.38 0.00)" font-size="100" font-style="italic" stroke="#fff" stroke-width="2.14">T</text><g transform="translate(383.4,0) scale(-1,1)"><path d="M200.6,-27.9 C194.55,-22.01 191.7,-16.12 191.7,-9.5 C191.7,-2.88 194.55,3.01 200.6,8.9 L201.3,8.2 C197.19,2.64 194.4,-2.88 194.4,-9.5 C194.4,-16.12 197.19,-21.64 201.3,-27.2 Z"/></g><path d="M198,8.4L211.9,-27.6" stroke="currentColor" stroke-width="1.7" stroke-linecap="round" fill="none"/><text transform="matrix(0.4511 0 0 0.3833 212.25 0.00)" font-size="100" font-style="italic" stroke="#fff" stroke-width="2.16">T</text><path d="M244.4,-20.4H261.7" stroke="#000" stroke-width="1.5"/><text transform="matrix(0.3023 0 0 0.2496 265.99 -14.04)" font-size="100" font-style="italic" stroke="#fff" stroke-width="0.67">ν</text></g>
</svg>
</body></html>
